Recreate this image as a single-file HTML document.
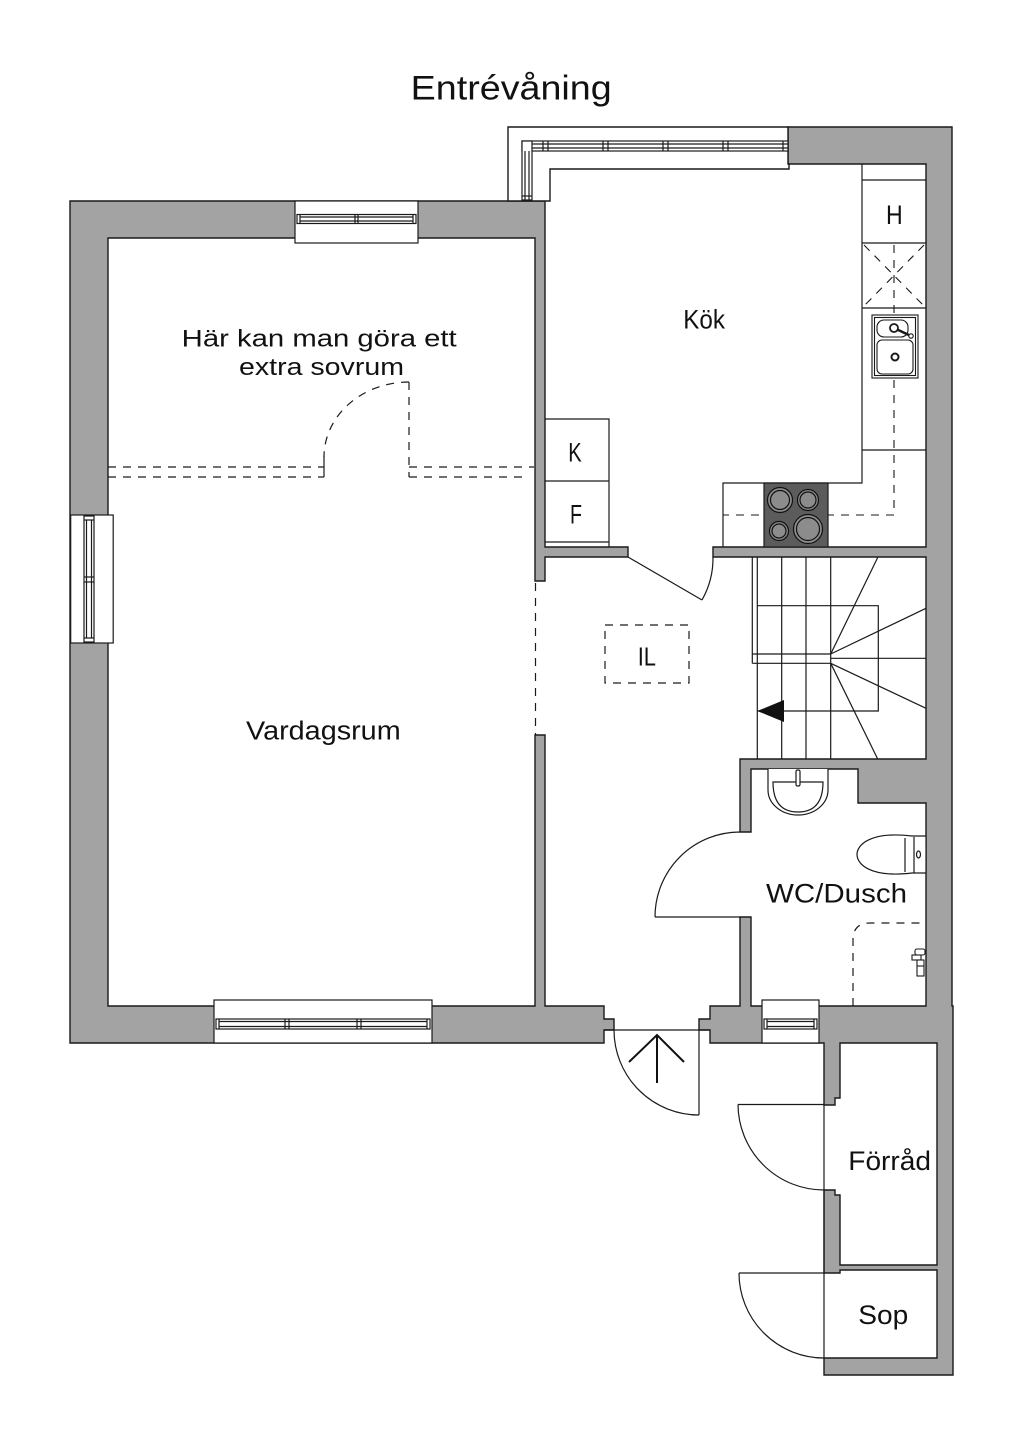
<!DOCTYPE html>
<html>
<head>
<meta charset="utf-8">
<style>
html,body{margin:0;padding:0;background:#fff;}
svg{display:block;}
text{font-family:"Liberation Sans",sans-serif;fill:#111;}
</style>
</head>
<body>
<svg width="1024" height="1448" viewBox="0 0 1024 1448" xmlns="http://www.w3.org/2000/svg">
<rect width="1024" height="1448" fill="#fff"/>

<!-- Title -->
<text x="410.7" y="99.3" font-size="34" textLength="201" lengthAdjust="spacingAndGlyphs">Entrévåning</text>

<g stroke="#1a1a1a" stroke-width="1.4" stroke-linejoin="miter">
<!-- Wall polygon A (living room + divider + bottom-left) -->
<path fill="#a3a3a3" d="M70,201 L545,201 L545,547 L628,547 L628,557 L545,557 L545,581 L535,581 L535,238 L108,238 L108,1006 L535,1006 L535,735 L545,735 L545,1006 L604,1006 L604,1019 L614,1019 L614,1030 L604,1030 L604,1043 L70,1043 Z"/>
<!-- Wall polygon B (right side) -->
<path fill="#a3a3a3" d="M788,127 L952,127 L952,1006 L953,1006 L953,1375 L824,1375 L824,1358 L937,1358 L937,1270 L840,1270 L840,1273 L824,1273 L824,1190 L835,1190 L835,1195 L840,1195 L840,1265 L937,1265 L937,1043 L840,1043 L840,1098 L835,1098 L835,1105 L824,1105 L824,1043 L710,1043 L710,1030 L699,1030 L699,1019 L710,1019 L710,1006 L740,1006 L740,917 L751,917 L751,1006 L926,1006 L926,803 L858,803 L858,769 L751,769 L751,832 L740,832 L740,759 L926,759 L926,557 L713,557 L713,547 L926,547 L926,164 L788,164 Z"/>
<!-- Kitchen window band -->
<path fill="#fff" d="M508,127 L788,127 L788,164 L789,164 L789,169 L550,169 L550,201 L508,201 Z"/>
</g>

<g stroke="#1a1a1a" stroke-width="1.2" fill="none">
<!-- Kitchen corner window glazing -->
<rect x="522" y="141" width="266" height="10" fill="#fff"/>
<rect x="522" y="141" width="10" height="59" fill="#fff"/>
<line x1="532" y1="144" x2="788" y2="144"/>
<line x1="532" y1="148" x2="788" y2="148"/>
<line x1="525" y1="151" x2="525" y2="200"/>
<line x1="529" y1="151" x2="529" y2="200"/>
<line x1="522" y1="196" x2="532" y2="196"/>
<line x1="543" y1="141" x2="543" y2="151"/><line x1="548" y1="141" x2="548" y2="151"/>
<line x1="603" y1="141" x2="603" y2="151"/><line x1="608" y1="141" x2="608" y2="151"/>
<line x1="663" y1="141" x2="663" y2="151"/><line x1="668" y1="141" x2="668" y2="151"/>
<line x1="723" y1="141" x2="723" y2="151"/><line x1="728" y1="141" x2="728" y2="151"/>
<line x1="783" y1="141" x2="783" y2="151"/>

<!-- Living top window -->
<rect x="295" y="201" width="123" height="42" fill="#fff"/>
<rect x="297" y="214.5" width="119" height="9"/>
<line x1="300" y1="217" x2="413" y2="217"/>
<line x1="300" y1="221" x2="413" y2="221"/>
<line x1="300" y1="214.5" x2="300" y2="223.5"/>
<line x1="413" y1="214.5" x2="413" y2="223.5"/>
<line x1="355" y1="214.5" x2="355" y2="223.5"/>
<line x1="358" y1="214.5" x2="358" y2="223.5"/>

<!-- Left window -->
<rect x="70.7" y="515" width="42.5" height="128" fill="#fff"/>
<rect x="84" y="516" width="10" height="126"/>
<line x1="86.5" y1="520" x2="86.5" y2="638"/>
<line x1="91.5" y1="520" x2="91.5" y2="638"/>
<line x1="84" y1="520" x2="94" y2="520"/>
<line x1="84" y1="638" x2="94" y2="638"/>
<line x1="84" y1="577" x2="94" y2="577"/>
<line x1="84" y1="582" x2="94" y2="582"/>

<!-- Bottom living window -->
<rect x="214" y="1000" width="218" height="43" fill="#fff"/>
<rect x="216" y="1019" width="214" height="10"/>
<line x1="219" y1="1021.5" x2="427" y2="1021.5"/>
<line x1="219" y1="1026.5" x2="427" y2="1026.5"/>
<line x1="219" y1="1019" x2="219" y2="1029"/>
<line x1="427" y1="1019" x2="427" y2="1029"/>
<line x1="285" y1="1019" x2="285" y2="1029"/><line x1="289" y1="1019" x2="289" y2="1029"/>
<line x1="357" y1="1019" x2="357" y2="1029"/><line x1="361" y1="1019" x2="361" y2="1029"/>

<!-- WC window -->
<rect x="762" y="1000" width="57" height="43" fill="#fff"/>
<rect x="764" y="1019" width="53" height="10"/>
<line x1="767" y1="1021.5" x2="814" y2="1021.5"/>
<line x1="767" y1="1026.5" x2="814" y2="1026.5"/>
<line x1="767" y1="1019" x2="767" y2="1029"/>
<line x1="814" y1="1019" x2="814" y2="1029"/>

<!-- K / F cabinets -->
<path d="M545,419 H609 V547"/>
<line x1="545" y1="481" x2="609" y2="481"/>
<line x1="545" y1="542" x2="609" y2="542"/>

<!-- Kitchen counter -->
<path d="M862,164 V483 H723 V547"/>
<line x1="862" y1="180" x2="926" y2="180"/>
<line x1="862" y1="243" x2="926" y2="243"/>
<line x1="862" y1="308" x2="926" y2="308"/>
<line x1="862" y1="450" x2="926" y2="450"/>
</g>

<!-- Fridge X and service line (dashed) -->
<g stroke="#1a1a1a" stroke-width="1.1" fill="none" stroke-dasharray="8,7">
<line x1="864" y1="245" x2="924" y2="306"/>
<line x1="924" y1="245" x2="864" y2="306"/>
<path d="M894,245 V515 H723"/>
</g>

<!-- Sink -->
<g stroke="#1a1a1a" stroke-width="1.1" fill="#fff">
<rect x="872" y="315" width="46" height="63"/>
<rect x="874.5" y="317.5" width="41" height="58"/>
<rect x="877" y="320" width="31" height="17" rx="7"/>
<rect x="877" y="340" width="36" height="34" rx="5"/>
<line x1="894" y1="328" x2="911" y2="336" stroke-width="2.5"/>
<circle cx="911" cy="336" r="2.2"/>
<circle cx="894" cy="328" r="4" stroke-width="1.8"/>
<circle cx="895" cy="357" r="3.5" stroke-width="2"/>
</g>

<!-- Stove -->
<rect x="764" y="483" width="64" height="64" fill="#5c5c5c" stroke="#1a1a1a" stroke-width="1.2"/>
<g stroke="#111" stroke-width="1.2" fill="#8c8c8c">
<circle cx="780" cy="500" r="12.5"/><circle cx="780" cy="500" r="9.5"/>
<circle cx="808" cy="500" r="10.5"/><circle cx="808" cy="500" r="8"/>
<circle cx="779" cy="531" r="9.5"/><circle cx="779" cy="531" r="7"/>
<circle cx="808" cy="529" r="14.5"/><circle cx="808" cy="529" r="11.5"/>
</g>

<!-- Stairs -->
<g stroke="#1a1a1a" stroke-width="1.2" fill="none">
<line x1="752.3" y1="557" x2="752.3" y2="663.3"/>
<line x1="757.3" y1="557" x2="757.3" y2="759"/>
<line x1="781.7" y1="557" x2="781.7" y2="759"/>
<line x1="806" y1="557" x2="806" y2="759"/>
<line x1="830.7" y1="557" x2="830.7" y2="759"/>
<path d="M757.3,605.7 H878.3 V711 H757.3"/>
<line x1="752.3" y1="654" x2="830.7" y2="654"/>
<line x1="752.3" y1="663.3" x2="830.7" y2="663.3"/>
<line x1="830.7" y1="654" x2="877.7" y2="557.5"/>
<line x1="830.7" y1="654" x2="926" y2="608.3"/>
<line x1="830.7" y1="658.3" x2="926" y2="658.3"/>
<line x1="830.7" y1="663.3" x2="926" y2="708.3"/>
<line x1="830.7" y1="663.3" x2="877.7" y2="759"/>
</g>
<polygon points="757.3,711 784,700 784,722" fill="#111"/>

<!-- Dashed elements -->
<g stroke="#1a1a1a" stroke-width="1.2" fill="none" stroke-dasharray="8,7">
<rect x="605" y="625" width="84" height="58"/>
<line x1="535.5" y1="583" x2="535.5" y2="735"/>
<line x1="108" y1="467" x2="324" y2="467"/>
<line x1="409" y1="467" x2="534" y2="467"/>
<line x1="108" y1="477" x2="324" y2="477"/>
<line x1="409" y1="477" x2="527" y2="477"/>
<line x1="409" y1="382" x2="409" y2="477"/>
<path d="M409,382 A85,75 0 0 0 324,457"/>
<path d="M853,1006 V940 Q853,923 870,923 H926"/>
</g>
<line x1="324" y1="456" x2="324" y2="477" stroke="#1a1a1a" stroke-width="1.2"/>

<!-- Doors -->
<g stroke="#1a1a1a" stroke-width="1.2" fill="none">
<!-- kitchen door -->
<line x1="628" y1="557" x2="702" y2="600"/>
<path d="M702,600 A85,85 0 0 0 713,557"/>
<!-- WC door -->
<line x1="655" y1="917" x2="740" y2="917"/>
<path d="M655,917 A85,85 0 0 1 740,832"/>
<!-- entrance -->
<line x1="604" y1="1030" x2="710" y2="1030"/>
<line x1="699" y1="1030" x2="699" y2="1115"/>
<path d="M614,1030 A85,85 0 0 0 699,1115"/>
<!-- Förråd door -->
<line x1="738" y1="1104.5" x2="824" y2="1104.5"/>
<path d="M738,1104.5 A86,86 0 0 0 824,1190"/>
<line x1="824" y1="1105" x2="824" y2="1358"/>
<!-- Sop door -->
<line x1="739" y1="1273" x2="824" y2="1273"/>
<path d="M739,1273 A85,85 0 0 0 824,1358"/>
</g>
<!-- entrance arrow -->
<g stroke="#111" stroke-width="2" fill="none">
<line x1="657" y1="1035" x2="657" y2="1083"/>
<polyline points="629,1062 657,1035 684,1062"/>
</g>

<!-- WC sink -->
<g stroke="#1a1a1a" stroke-width="1.2" fill="#fff">
<path d="M768,769 V790 A30,25 0 0 0 828,790 V769"/>
<path d="M773,782 H823 Q823,812 798,812 Q773,812 773,782 Z"/>
<rect x="796" y="770" width="4" height="16" rx="1.5"/>
</g>
<!-- Toilet -->
<g stroke="#1a1a1a" stroke-width="1.2" fill="#fff">
<path d="M912,836 C870,831 857,845 857,854.5 C857,864 870,878 912,873 L926,873 L926,836 Z"/>
<line x1="905" y1="838" x2="905" y2="872"/>
<line x1="914" y1="837" x2="914" y2="873"/>
<ellipse cx="918.5" cy="854.5" rx="2" ry="3.5"/>
</g>
<!-- Shower head -->
<g stroke="#1a1a1a" stroke-width="1.1" fill="#fff">
<rect x="915" y="949" width="10" height="6" rx="2"/>
<rect x="912" y="955" width="9" height="5"/>
<rect x="917" y="960" width="7" height="16"/>
<line x1="917" y1="966" x2="924" y2="966"/>
</g>

<!-- Labels -->
<text x="181.7" y="346.7" font-size="24" textLength="275" lengthAdjust="spacingAndGlyphs">Här kan man göra ett</text>
<text x="239" y="375" font-size="24" textLength="165" lengthAdjust="spacingAndGlyphs">extra sovrum</text>
<text x="683.3" y="328.3" font-size="27" textLength="41.7" lengthAdjust="spacingAndGlyphs">Kök</text>
<text x="246" y="739.3" font-size="25.5" textLength="154.7" lengthAdjust="spacingAndGlyphs">Vardagsrum</text>
<text x="568.3" y="461.7" font-size="27" textLength="13.4" lengthAdjust="spacingAndGlyphs">K</text>
<text x="570" y="523.3" font-size="27" textLength="12" lengthAdjust="spacingAndGlyphs">F</text>
<text x="886" y="224" font-size="27" textLength="16.7" lengthAdjust="spacingAndGlyphs">H</text>
<text x="637.7" y="665.7" font-size="26" textLength="18.3" lengthAdjust="spacingAndGlyphs">IL</text>
<text x="766" y="902.7" font-size="27" textLength="141" lengthAdjust="spacingAndGlyphs">WC/Dusch</text>
<text x="848.3" y="1170" font-size="27" textLength="82.7" lengthAdjust="spacingAndGlyphs">Förråd</text>
<text x="858.3" y="1324" font-size="27" textLength="50" lengthAdjust="spacingAndGlyphs">Sop</text>
</svg>
</body>
</html>
